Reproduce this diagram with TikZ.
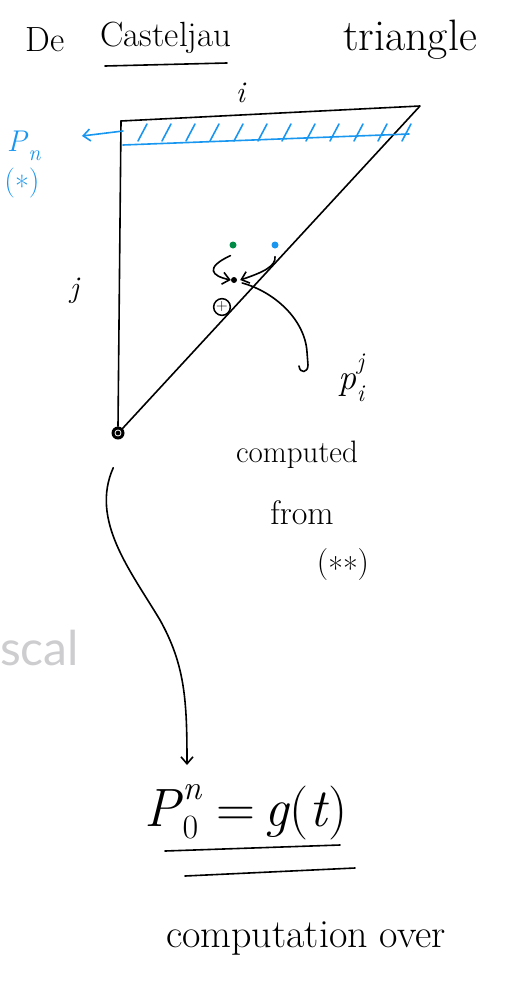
\documentclass[tikz,border=0pt]{standalone}
\usepackage{fontspec}
\newfontfamily\graysans{Lato}
\usetikzlibrary{arrows.meta}
\definecolor{penblue}{RGB}{25,150,240}
\definecolor{pengreen}{RGB}{0,140,70}
\definecolor{ghost}{RGB}{205,205,208}
\newcommand{\fs}[1]{\fontsize{#1}{#1}\selectfont}
\newcommand{\lowstar}{\raisebox{-0.22em}{*}}
\begin{document}
\begin{tikzpicture}[x=1pt,y=-1pt,
  ink/.style={line width=1.6pt, line cap=round, line join=round},
  bink/.style={ink, draw=penblue},
  hand/.style={inner sep=0pt, font=\fs{30}},
  big/.style={inner sep=0pt, font=\fs{35}},
  barb/.style={-{Straight Barb[length=7pt,width=12pt,line width=1.6pt]}},
  dotn/.style={circle, fill, inner sep=0pt, minimum size=#1}]
\useasboundingbox (0,0) rectangle (520,982);

% title
\node[big] (de) at (45,40) {De};
\node[big] (cast) at (166,38) {Casteljau};
\node[big, font=\fs{44}] (tri) at (410,40) {triangle};
\draw[ink] (105,66) -- (227,63);

% triangle
\coordinate (tl) at (121,121);
\coordinate (tr) at (420,106);
\node[dotn=13pt] (p0) at (118,433) {};
\draw[white, line width=0.8pt] (118,433) circle (3pt);
\draw[ink] (tl) -- (tr) -- (p0.north east);
\draw[ink] (tl) -- (p0.north);
\node[hand] (ilab) at (241,93) {\textit{i}};
\node[hand] (jlab) at (75,291) {\textit{j}};

% blue band
\coordinate (bl) at (123,145);
\coordinate (br) at (409,134);
\draw[bink] (bl) -- (br);
\foreach \x in {138,162,186,210,234,258,282,306,330,354,378,402}
  \draw[bink] (\x,141) -- (\x+9,124);
\coordinate (arrS) at (123,131);
\coordinate (arrE) at (82,136);
\draw[bink, barb] (arrS) -- (arrE);
\node[hand, text=penblue] (pn) at (24,146) {\textit{P}\raisebox{-0.3em}{\fs{22}\textit{n}}};
\node[hand, text=penblue] (star) at (22,183) {(\lowstar)};

% dots
\node[dotn=7pt, pengreen] (gd) at (233,245) {};
\node[dotn=7pt, penblue] (bd) at (275,245) {};
\node[dotn=6pt] (kd) at (234,280) {};
\draw[ink, barb] ([yshift=-8pt]gd.south west) .. controls (204,268) and (212,276) .. (kd.west);
\draw[ink, barb] ([yshift=-8pt]bd.south) .. controls (276,266) and (264,272) .. ([xshift=3pt]kd.east);
\node[circle, draw, line width=1.5pt, inner sep=0.5pt, font=\fs{16}] (plus) at (222,307) {+};

% p_i^j
\node[hand, font=\fs{36}] (pij) at (352,378) {\textit{p}\rlap{\raisebox{0.55em}{\fs{24}\textit{j}}}\raisebox{-0.35em}{\fs{24}\textit{i}}};
\draw[ink] ([xshift=5pt,yshift=-3pt]kd.east) .. controls (275,292) and (305,320) .. (307,352)
  -- (308,365) .. controls (308,373) and (300,374) .. (299,366);
\node[hand, font=\fs{31}] (comp) at (297,455) {computed};
\node[hand, font=\fs{34}] (from) at (302,513) {from};
\node[hand, font=\fs{32}] (sstar) at (343,565) {(\lowstar\lowstar)};

% ghost text
\node[inner sep=0pt, anchor=west, text=ghost, font=\graysans\fs{48}] (ghost) at (0,648) {scal};

% long arrow
\coordinate (fend) at (187,765);
\draw[ink, barb] ([yshift=-30pt]p0.south west) .. controls (90,520) and (130,570) .. (160,620)
  .. controls (185,665) and (187,700) .. (fend);

% formula
\node[inner sep=0pt, font=\fs{54}] (form) at (246,812) {\textit{P}\rlap{\raisebox{0.5em}{\fs{34}\textit{n}}}\raisebox{-0.22em}{\fs{34}0}\,\,=\,\textit{g}(\textit{t})};
\draw[ink] (165,851) -- (340,845);
\draw[ink] (185,876) -- (355,868);
\node[hand, font=\fs{40}] (over) at (306,938) {computation over};
\end{tikzpicture}
\end{document}
